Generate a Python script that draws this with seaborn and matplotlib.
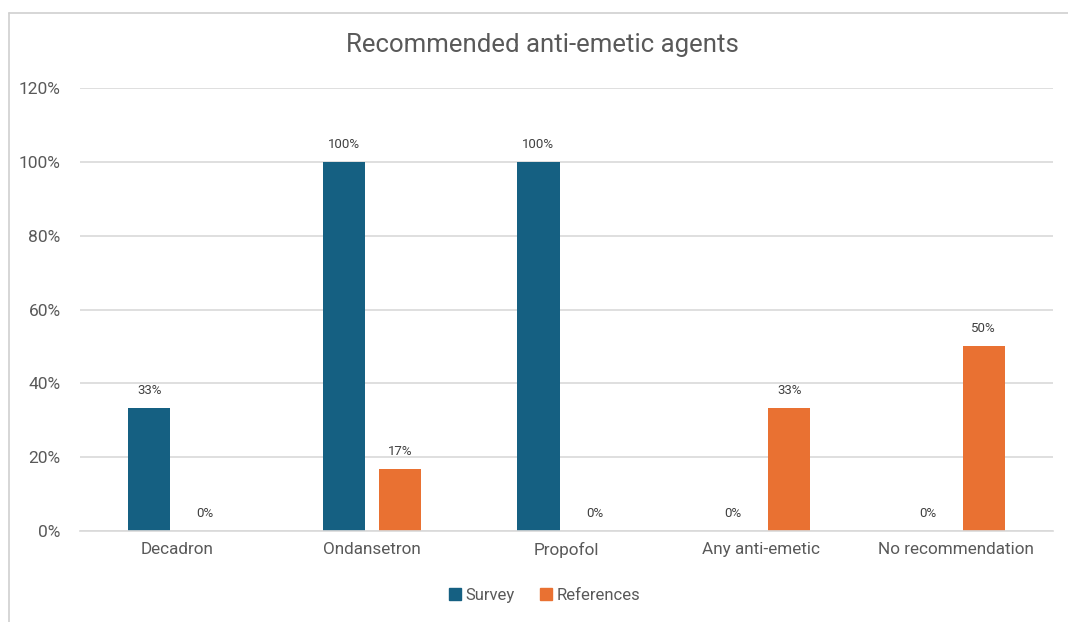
import pandas as pd
import matplotlib.pyplot as plt
import seaborn as sns
from matplotlib.lines import Line2D
from matplotlib.ticker import PercentFormatter

categories = ['Decadron', 'Ondansetron', 'Propofol', 'Any anti-emetic', 'No recommendation']
survey = [33.33, 100, 100, 0, 0]
references = [0, 16.67, 0, 33.33, 50]
series = ['Survey', 'References']
colors = {'Survey': '#156082', 'References': '#E97132'}

df = pd.DataFrame({
    'Agent': categories * 2,
    'Share': survey + references,
    'Source': ['Survey'] * len(categories) + ['References'] * len(categories),
})

sns.set_style('white')
plt.rcParams['font.family'] = ['Roboto', 'DejaVu Sans']

fig = plt.figure(figsize=(10.68, 6.22), dpi=100)
ax = fig.add_axes([0.0749, 0.1463, 0.9111, 0.7122])

sns.barplot(data=df, x='Agent', y='Share', hue='Source', hue_order=series,
            palette=colors, width=0.576, gap=0.25, ax=ax, legend=False,
            errorbar=None, saturation=1, linewidth=0)

# data labels
for cont in ax.containers:
    ax.bar_label(cont, labels=[f'{v:.0f}%' for v in cont.datavalues],
                 padding=8, fontsize=9.5, color='#404040')

ax.set_ylim(0, 120)
ax.set_yticks(range(0, 121, 20))
ax.yaxis.set_major_formatter(PercentFormatter(decimals=0))
ax.set_xlim(-0.5, 4.5)
ax.grid(axis='y', color='#D9D9D9', linewidth=1.2)
ax.set_axisbelow(True)
for s in ['top', 'right', 'left']:
    ax.spines[s].set_visible(False)
ax.spines['bottom'].set_color('#D9D9D9')
ax.spines['bottom'].set_linewidth(1.2)
ax.tick_params(axis='y', labelsize=12.5, labelcolor='#595959', length=0, pad=14)
ax.tick_params(axis='x', labelsize=12.3, labelcolor='#595959', length=0, pad=8)
ax.set_xlabel('')
ax.set_ylabel('')

fig.text(0.508, 0.928, 'Recommended anti-emetic agents', ha='center', va='center',
         fontsize=18.5, color='#595959')

handles = [plt.Rectangle((0, 0), 1, 1, color=colors[s]) for s in series]
fig.legend(handles, series, loc='center', bbox_to_anchor=(0.51, 0.043), ncol=2,
           frameon=False, fontsize=12, labelcolor='#595959', handlelength=0.7,
           handleheight=0.7, handletextpad=0.3, columnspacing=1.5)

# chart frame
fig.add_artist(Line2D([0.0085, 0.0085], [0, 0.979], color='#D0D0D0', linewidth=1.2))
fig.add_artist(Line2D([0.0085, 1.0], [0.979, 0.979], color='#D0D0D0', linewidth=1.2))

plt.savefig('out.png', dpi=100)
